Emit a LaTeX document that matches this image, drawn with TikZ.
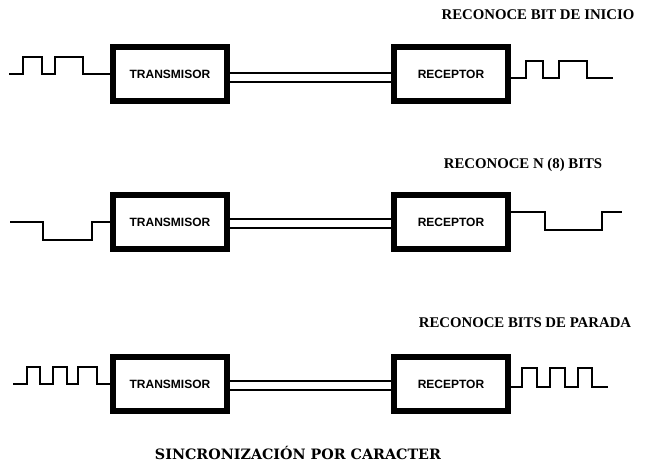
\documentclass[tikz,border=0pt]{standalone}
\usepackage{fontspec}
\setmainfont{Liberation Serif}
\newfontfamily\boxfont{Liberation Sans}
\newfontfamily\titlefont{DejaVu Serif}
\usepackage{tikz}
\usetikzlibrary{positioning}
\definecolor{cInk}{HTML}{000000}
\tikzset{
  x=1pt, y=-1pt,
  unit/.style={draw=cInk, line width=6pt, fill=white, minimum width=114pt, minimum height=54pt,
               inner sep=0pt, font=\boxfont\bfseries\fontsize{12}{14}\selectfont},
  sig/.style={draw=cInk, line width=2.8pt, line join=miter},
  wire/.style={draw=cInk, line width=2.4pt},
  note/.style={font=\bfseries\fontsize{14.8}{17}\selectfont, inner sep=0pt},
}

\begin{document}
\begin{tikzpicture}
\useasboundingbox (0,0) rectangle (646,471);
% fila 1
\node[unit] (tx1) at (170,74) {TRANSMISOR};
\node[unit, right=161pt of tx1] (rx1) {RECEPTOR};
\node[note] (lbl1) at (538,15) {RECONOCE BIT DE INICIO};
\draw[wire] ([yshift=1pt]tx1.east) -- ([yshift=1pt]rx1.west);
\draw[wire] ([yshift=-8pt]tx1.east) -- ([yshift=-8pt]rx1.west);
\draw[sig] (9,74) -| (23,57) -| (42,74) -| (55,57) -| (83,74) -- (tx1.west);
\draw[sig] ([yshift=-4pt]rx1.east) -| (526,61) -| (543,78) -| (559,61) -| (587,78) -- (613,78);
% fila 2
\node[unit] (tx2) at (170,222) {TRANSMISOR};
\node[unit, right=161pt of tx2] (rx2) {RECEPTOR};
\node[note] (lbl2) at (523,165) {RECONOCE N (8) BITS};
\draw[wire] ([yshift=3pt]tx2.east) -- ([yshift=3pt]rx2.west);
\draw[wire] ([yshift=-6pt]tx2.east) -- ([yshift=-6pt]rx2.west);
\draw[sig] (10,222) -| (43,240) -| (92,222) -- (tx2.west);
\draw[sig] ([yshift=10pt]rx2.east) -| (545,230) -| (602,212) -- (622,212);
% fila 3
\node[unit] (tx3) at (170,384) {TRANSMISOR};
\node[unit, right=161pt of tx3] (rx3) {RECEPTOR};
\node[note] (lbl3) at (525,323) {RECONOCE BITS DE PARADA};
\draw[wire] ([yshift=3pt]tx3.east) -- ([yshift=3pt]rx3.west);
\draw[wire] ([yshift=-6pt]tx3.east) -- ([yshift=-6pt]rx3.west);
\draw[sig] (13,384) -| (27,367) -| (40,384) -| (53,367) -| (67,384) -| (78,367) -| (97,384) -- (tx3.west);
\draw[sig] ([yshift=-3pt]rx3.east) -| (522,368) -| (537,387) -| (550,368) -| (565,387) -| (578,368) -| (592,387) -- (608,387);
% titulo
\node[font=\titlefont\bfseries\fontsize{14.3}{16}\selectfont] (titulo) at (298,453) {SINCRONIZACIÓN POR CARACTER};
\end{tikzpicture}
\end{document}
